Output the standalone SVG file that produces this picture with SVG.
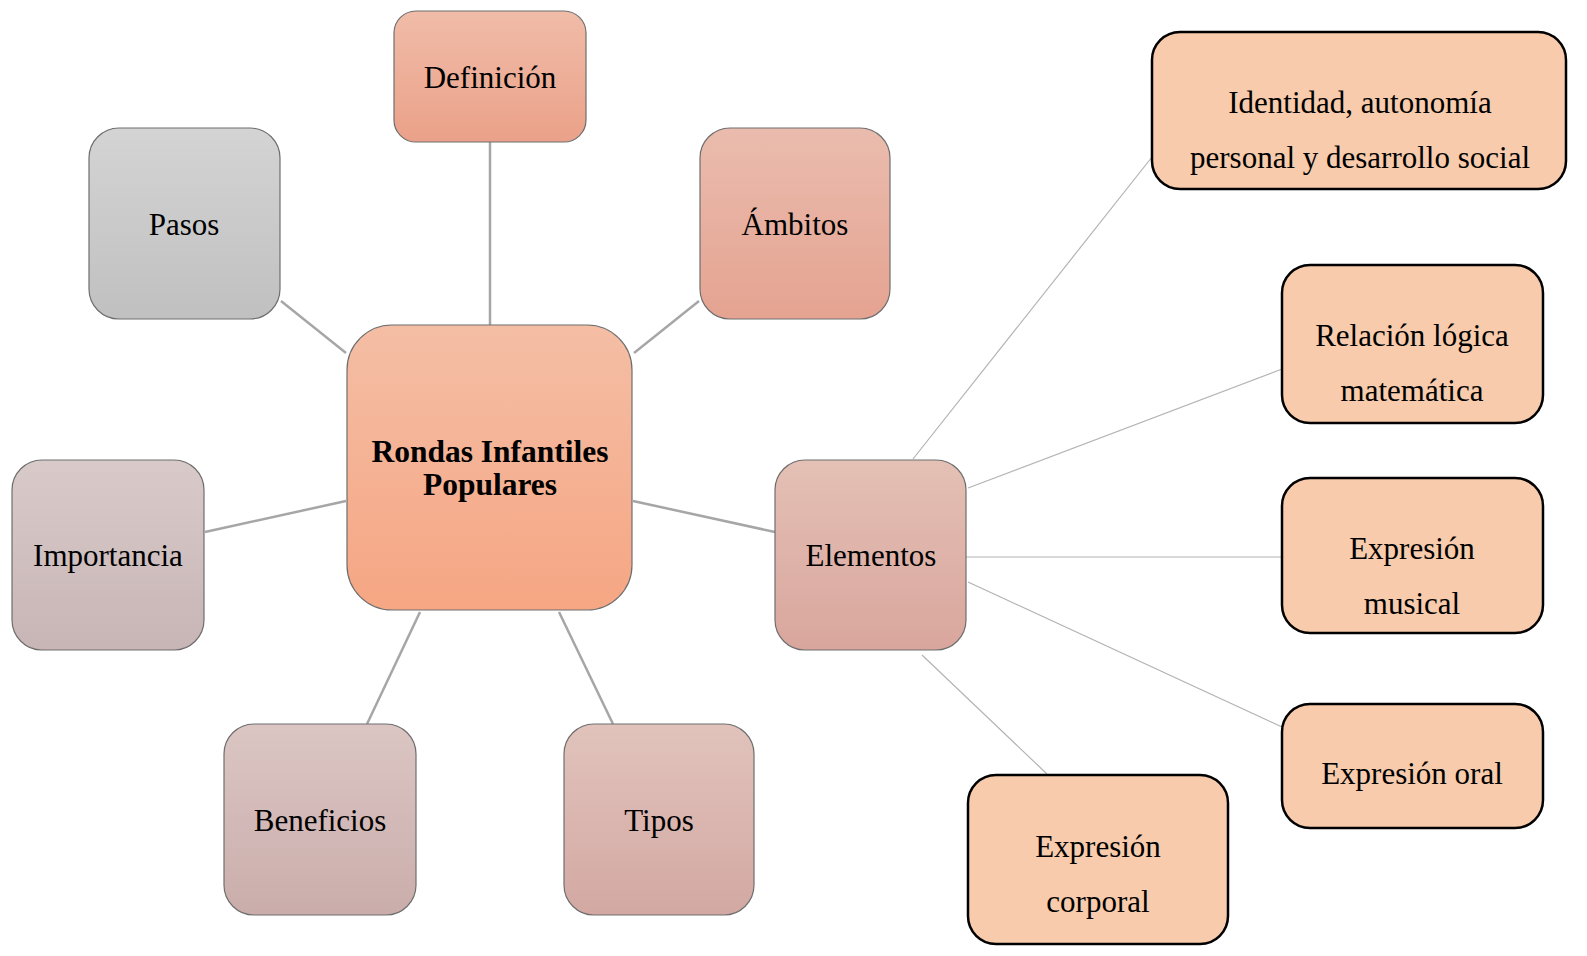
<svg xmlns="http://www.w3.org/2000/svg" width="1587" height="956" viewBox="0 0 1587 956">
<style>
text{font-family:"Liberation Serif","Times New Roman",serif;font-size:31px;fill:#000;text-anchor:middle}
.b{font-weight:bold;font-size:31.5px}
.n{stroke:#6e6e6e;stroke-width:1.2}
.r{fill:#f7cbab;stroke:#000;stroke-width:2.5}
.c1{stroke:#a6a6a6;stroke-width:2.5;fill:none}
.c2{stroke:#b3b3b3;stroke-width:1.2;fill:none}
</style>
<defs>
<linearGradient id="gC" x1="0" y1="0" x2="0" y2="1"><stop offset="0" stop-color="#f4bea5"/><stop offset="1" stop-color="#f6a683"/></linearGradient>
<linearGradient id="gD" x1="0" y1="0" x2="0" y2="1"><stop offset="0" stop-color="#f0bca8"/><stop offset="1" stop-color="#eba189"/></linearGradient>
<linearGradient id="gA" x1="0" y1="0" x2="0" y2="1"><stop offset="0" stop-color="#eabcae"/><stop offset="1" stop-color="#e5a391"/></linearGradient>
<linearGradient id="gP" x1="0" y1="0" x2="0" y2="1"><stop offset="0" stop-color="#d4d4d4"/><stop offset="1" stop-color="#c0c0c0"/></linearGradient>
<linearGradient id="gI" x1="0" y1="0" x2="0" y2="1"><stop offset="0" stop-color="#d9caca"/><stop offset="1" stop-color="#c8b5b5"/></linearGradient>
<linearGradient id="gB" x1="0" y1="0" x2="0" y2="1"><stop offset="0" stop-color="#dbc6c4"/><stop offset="1" stop-color="#caadab"/></linearGradient>
<linearGradient id="gT" x1="0" y1="0" x2="0" y2="1"><stop offset="0" stop-color="#e1c3bc"/><stop offset="1" stop-color="#d3a8a2"/></linearGradient>
<linearGradient id="gE" x1="0" y1="0" x2="0" y2="1"><stop offset="0" stop-color="#e4c0b5"/><stop offset="1" stop-color="#d9a69d"/></linearGradient>
</defs>
<rect width="1587" height="956" fill="#fff"/>
<g id="connectors">
<line class="c1" x1="490" y1="142" x2="490" y2="325"/>
<line class="c1" x1="699" y1="301" x2="634" y2="353"/>
<line class="c1" x1="281" y1="301" x2="346" y2="353"/>
<line class="c1" x1="205" y1="532" x2="346" y2="501"/>
<line class="c1" x1="633" y1="501" x2="775" y2="532"/>
<line class="c1" x1="420" y1="612" x2="367" y2="724"/>
<line class="c1" x1="559" y1="612" x2="613" y2="724"/>
<line class="c2" x1="913" y1="459" x2="1152" y2="157"/>
<line class="c2" x1="968" y1="488" x2="1282" y2="369"/>
<line class="c2" x1="962" y1="557" x2="1282" y2="557"/>
<line class="c2" x1="968" y1="582" x2="1282" y2="727"/>
<line class="c2" x1="922" y1="655" x2="1047" y2="774"/>
</g>
<g id="center"><rect class="n" x="347" y="325" width="285" height="285" rx="45" fill="url(#gC)"/>
<text class="b" x="490" y="462">Rondas Infantiles</text><text class="b" x="490" y="495">Populares</text></g>
<g id="definicion"><rect class="n" x="394" y="11" width="192" height="131" rx="22" fill="url(#gD)"/><text x="490" y="88">Definición</text></g>
<g id="ambitos"><rect class="n" x="700" y="128" width="190" height="191" rx="30" fill="url(#gA)"/><text x="795" y="235">Ámbitos</text></g>
<g id="pasos"><rect class="n" x="89" y="128" width="191" height="191" rx="30" fill="url(#gP)"/><text x="184" y="235">Pasos</text></g>
<g id="importancia"><rect class="n" x="12" y="460" width="192" height="190" rx="30" fill="url(#gI)"/><text x="108" y="566">Importancia</text></g>
<g id="beneficios"><rect class="n" x="224" y="724" width="192" height="191" rx="30" fill="url(#gB)"/><text x="320" y="831">Beneficios</text></g>
<g id="tipos"><rect class="n" x="564" y="724" width="190" height="191" rx="30" fill="url(#gT)"/><text x="659" y="831">Tipos</text></g>
<g id="elementos"><rect class="n" x="775" y="460" width="191" height="190" rx="30" fill="url(#gE)"/><text x="871" y="566">Elementos</text></g>
<g id="identidad"><rect class="r" x="1152" y="32" width="414" height="157" rx="28"/><text x="1360" y="113">Identidad, autonomía</text><text x="1360" y="168">personal y desarrollo social</text></g>
<g id="relacion"><rect class="r" x="1282" y="265" width="261" height="158" rx="28"/><text x="1412" y="346">Relación lógica</text><text x="1412" y="401">matemática</text></g>
<g id="musical"><rect class="r" x="1282" y="478" width="261" height="155" rx="28"/><text x="1412" y="559">Expresión</text><text x="1412" y="614">musical</text></g>
<g id="oral"><rect class="r" x="1282" y="704" width="261" height="124" rx="28"/><text x="1412" y="784">Expresión oral</text></g>
<g id="corporal"><rect class="r" x="968" y="775" width="260" height="169" rx="28"/><text x="1098" y="857">Expresión</text><text x="1098" y="912">corporal</text></g>
</svg>
